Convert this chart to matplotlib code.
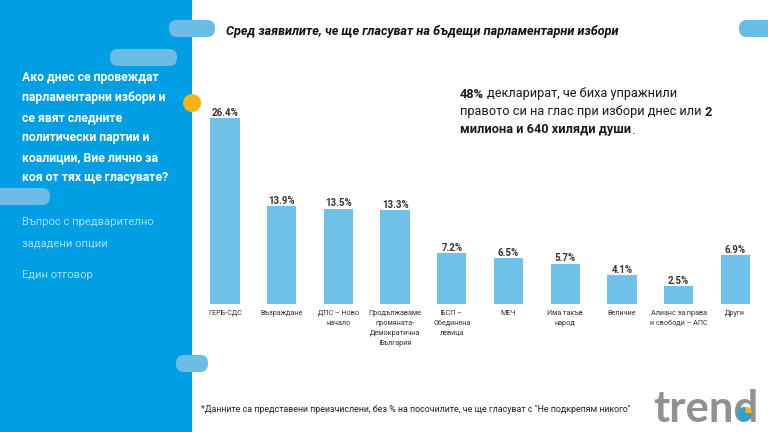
import matplotlib
matplotlib.use("Agg")
import matplotlib.pyplot as plt
from matplotlib.patches import FancyBboxPatch, Rectangle, Circle, Wedge

plt.rcParams["font.family"] = ["Roboto", "DejaVu Sans"]

categories = ["ГЕРБ-СДС", "Възраждане", "ДПС – Ново\nначало",
              "Продължаваме\nпромяната-\nДемократична\nБългария",
              "БСП –\nОбединена\nлевица", "МЕЧ", "Има такъв\nнарод", "Величие",
              "Алианс за права\nи свободи – АПС", "Други"]
values = [26.4, 13.9, 13.5, 13.3, 7.2, 6.5, 5.7, 4.1, 2.5, 6.9]

W, H = 768, 432
fig = plt.figure(figsize=(W/100, H/100), dpi=100, facecolor="white")

bg = fig.add_axes([0, 0, 1, 1])
bg.set_xlim(0, W); bg.set_ylim(H, 0); bg.axis("off")
BLUE = "#009FE3"; PILL = "#6CBDE6"
bg.add_patch(Rectangle((0, 0), 192, H, color=BLUE, lw=0))
for x, y, w, h in [(169, 20, 46, 17), (110, 49, 67, 17), (-10, 188, 60, 17),
                   (176, 355, 32, 17), (739, 20, 40, 17)]:
    bg.add_patch(FancyBboxPatch((x+8, y+8), w-16, h-16,
                                boxstyle="round,pad=8,rounding_size=8",
                                fc=PILL, ec="none", zorder=3))
bg.add_patch(Circle((192, 103), 9, fc="#FBB017", ec="none", zorder=3))

q = ["Ако днес се провеждат", "парламентарни избори и", "се явят следните",
     "политически партии и", "коалиции, Вие лично за", "коя от тях ще гласувате?"]
for i, s in enumerate(q):
    bg.text(22, 78+20*i, s, color="white", fontsize=8.8, fontweight="bold", va="center", zorder=4)
for s, y in [("Въпрос с предварително", 222), ("зададени опции", 243), ("Един отговор", 275)]:
    bg.text(22, y, s, color="#A9DDF5", fontsize=8.1, va="center", zorder=4)

bg.text(226, 32, "Сред заявилите, че ще гласуват на бъдещи парламентарни избори",
        fontsize=9.1, fontweight="bold", fontstyle="italic", color="#111111", va="center")

def rich(x, y, parts):
    r = fig.canvas.get_renderer()
    for s, b in parts:
        t = bg.text(x, y, s, fontsize=9.2, fontweight="bold" if b else "normal",
                    color="#1a1a1a", va="center")
        x += t.get_window_extent(r).width
rich(460, 94, [("48%", True), (" декларират, че биха упражнили", False)])
rich(460, 112, [("правото си на глас при избори днес или ", False), ("2", True)])
rich(460, 130, [("милиона и 640 хиляди души", True), (".", False)])

bg.text(201, 410, "*Данните са представени преизчислени, без % на посочилите, че ще гласуват с \"Не подкрепям никого\"",
        fontsize=6.4, color="#222222", va="center")

# logo wordmark
bg.text(653, 409.5, "trend", fontsize=31.5, color="#8F9193", va="center", family="Lato", fontweight="bold")
bg.add_patch(Circle((744.5, 414), 7, fc="#2F9FD8", ec="none", zorder=3))
bg.add_patch(Wedge((745.5, 413), 6.5, -90, 0, fc="#FBB017", ec="none", zorder=4))

# chart
left, right, bottom, top = 196.65, 763.65, 304, 101.0
ax = fig.add_axes([left/W, 1-bottom/H, (right-left)/W, (bottom-top)/H])
ax.patch.set_alpha(0)
ax.set_xlim(-0.5, 9.5); ax.set_ylim(0, (bottom-top)/7.05)
xs = list(range(len(values)))
ax.bar(xs, values, width=0.515, color="#6EC1E8")
for x, v in zip(xs, values):
    ax.text(x, v+0.05, f"{v}%", ha="center", va="bottom", fontsize=7.0,
            fontweight="bold", color="#333333")
ax.set_xticks(xs)
ax.set_xticklabels(categories, fontsize=5.2, color="#333333", linespacing=1.6)
ax.tick_params(axis="x", length=0, pad=4)
ax.set_yticks([])
for s in ax.spines.values():
    s.set_visible(False)

fig.savefig("out.png", dpi=100)
